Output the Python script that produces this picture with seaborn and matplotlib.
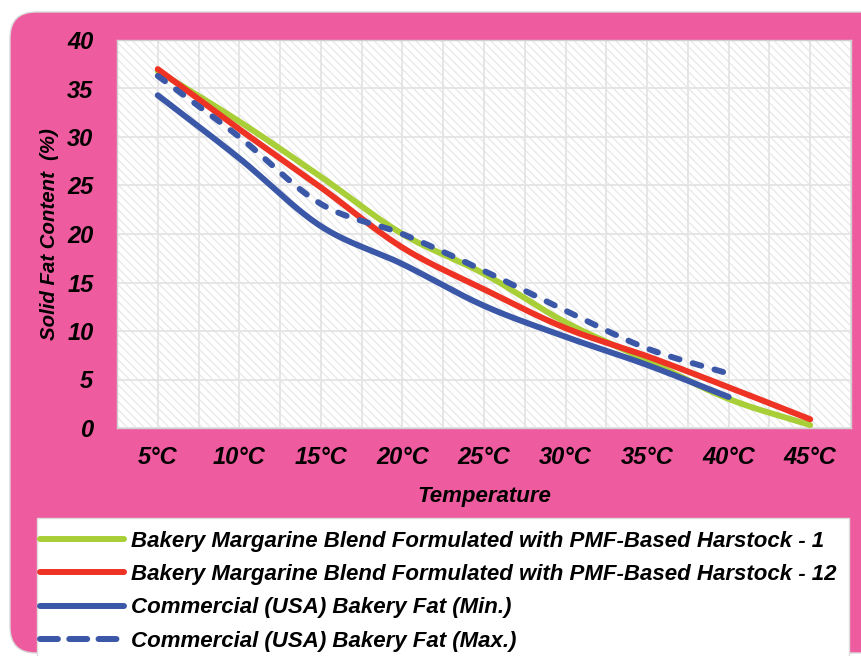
import numpy as np
import pandas as pd
import matplotlib
matplotlib.use("Agg")
import matplotlib.pyplot as plt
from matplotlib.patches import FancyBboxPatch, Rectangle
from matplotlib.transforms import IdentityTransform
import seaborn as sns

# ---- data -------------------------------------------------------------
temps = ["5°C", "10°C", "15°C", "20°C", "25°C", "30°C", "35°C", "40°C", "45°C"]
pmf_1 = [36.8, 31.6, 25.9, 20.0, 15.9, 10.9, 7.0, 3.0, 0.3]
pmf_12 = [37.0, 30.8, 24.8, 18.6, 14.3, 10.3, 7.4, 4.2, 0.9]
usa_min = [34.3, 27.8, 20.8, 16.9, 12.6, 9.4, 6.5, 3.2]
usa_max = [36.3, 30.0, 23.1, 20.0, 16.2, 12.1, 8.2, 5.6]

names = [
    "Bakery Margarine Blend Formulated with PMF-Based Harstock - 1",
    "Bakery Margarine Blend Formulated with PMF-Based Harstock - 12",
    "Commercial (USA) Bakery Fat (Min.)",
    "Commercial (USA) Bakery Fat (Max.)",
]
values = [pmf_1, pmf_12, usa_min, usa_max]
colors = ["#A9CF38", "#EE3224", "#3B57A7", "#3B57A7"]
y_ticks = [0, 5, 10, 15, 20, 25, 30, 35, 40]

PINK = "#EF5B9F"
FONT = "Liberation Sans"


def smooth(vals, steps=24):
    """Catmull-Rom curve through the points (smoothed line rendering)."""
    p = np.column_stack([np.arange(len(vals), dtype=float), np.asarray(vals, float)])
    ext = np.vstack([2 * p[0] - p[1], p, 2 * p[-1] - p[-2]])
    out = []
    t = np.linspace(0, 1, steps, endpoint=False)[:, None]
    for i in range(1, len(ext) - 2):
        p0, p1, p2, p3 = ext[i - 1], ext[i], ext[i + 1], ext[i + 2]
        seg = 0.5 * ((2 * p1) + (-p0 + p2) * t + (2 * p0 - 5 * p1 + 4 * p2 - p3) * t ** 2
                     + (-p0 + 3 * p1 - 3 * p2 + p3) * t ** 3)
        out.append(seg)
    out.append(p[-1][None, :])
    return np.vstack(out)


frames = []
for name, vals in zip(names, values):
    c = smooth(vals)
    frames.append(pd.DataFrame({"x": c[:, 0], "y": c[:, 1], "series": name}))
df = pd.concat(frames, ignore_index=True)

# ---- figure -----------------------------------------------------------
sns.set_theme(style="white")
plt.rcParams["font.family"] = [FONT, "DejaVu Sans"]
plt.rcParams["hatch.linewidth"] = 0.9

fig = plt.figure(figsize=(8.61, 6.56), dpi=100)
fig.patch.set_facecolor("white")

# rounded pink panel behind everything
panel = FancyBboxPatch((10, 3), 900, 641, boxstyle="round,pad=0,rounding_size=26",
                       transform=IdentityTransform(), facecolor=PINK,
                       edgecolor="#d9d9d9", linewidth=1.0, zorder=-10)
fig.patches.append(panel)

# white box holding the legend
fig.patches.append(Rectangle((37, -5), 812, 656 - 518 + 5, transform=IdentityTransform(),
                             facecolor="white", edgecolor="#dddddd", linewidth=1.0,
                             zorder=-5))

ax = fig.add_axes([117 / 861, 1 - 428 / 656, (851 - 117) / 861, (428 - 40) / 656])
ax.set_zorder(1)
ax.set_facecolor("white")
ax.add_patch(Rectangle((0, 0), 1, 1, transform=ax.transAxes, facecolor="none",
                       edgecolor="#e8e8e8", hatch="\\\\\\\\",
                       linewidth=0, zorder=0))

lw = 4.3
sns.lineplot(data=df, x="x", y="y", hue="series", style="series",
             palette=dict(zip(names, colors)),
             dashes={names[0]: "", names[1]: "", names[2]: "", names[3]: (1.5, 2.3)},
             sort=False, estimator=None, linewidth=lw, ax=ax, zorder=3)
for line in ax.get_lines():
    line.set_solid_capstyle("round")
    line.set_dash_capstyle("round")

ax.set_xlim(-0.5, 8.5)
ax.set_ylim(0, 40)
ax.set_xticks(range(len(temps)))
ax.set_xticklabels(temps)
ax.set_xticks(np.arange(-0.5, 9, 1.0), minor=True)
ax.set_yticks(y_ticks)
ax.set_yticklabels([str(v) for v in y_ticks])

ax.grid(True, which="both", axis="x", color="#e4e4e4", linewidth=1.3, zorder=1)
ax.grid(True, which="major", axis="y", color="#e4e4e4", linewidth=1.3, zorder=1)
ax.set_axisbelow(True)
ax.tick_params(axis="both", which="both", length=0)
ax.tick_params(axis="x", pad=13)
ax.tick_params(axis="y", pad=17)
for lab in ax.get_xticklabels() + ax.get_yticklabels():
    lab.set_fontsize(17)
    lab.set_fontweight("bold")
    lab.set_fontstyle("italic")
    lab.set_color("black")
for sp in ax.spines.values():
    sp.set_color("#d0d0d0")
    sp.set_linewidth(1.0)

ax.set_xlabel("Temperature", fontsize=16, fontweight="bold", fontstyle="italic",
              color="black", labelpad=12)
ax.set_ylabel("Solid Fat Content  (%)", fontsize=14.7, fontweight="bold",
              fontstyle="italic", color="black", labelpad=6)

handles, labels = ax.get_legend_handles_labels()
ax.get_legend().remove()
leg = fig.legend(handles, labels, loc="upper left",
                 bbox_to_anchor=(40 / 861, 1 - 531 / 656),
                 borderaxespad=0, borderpad=0, frameon=False,
                 handlelength=3.8, handletextpad=0.3, labelspacing=0.55,
                 prop={"family": FONT, "weight": "bold", "style": "italic", "size": 16})
for txt in leg.get_texts():
    txt.set_color("black")
for i, h in enumerate(leg.get_lines()):
    h.set_linewidth(lw)
    h.set_solid_capstyle("round")
    h.set_dash_capstyle("round")
    if i == 3:
        h.set_linestyle((0, (3.0, 1.9)))

fig.savefig("out.png", dpi=100, facecolor=fig.get_facecolor())
